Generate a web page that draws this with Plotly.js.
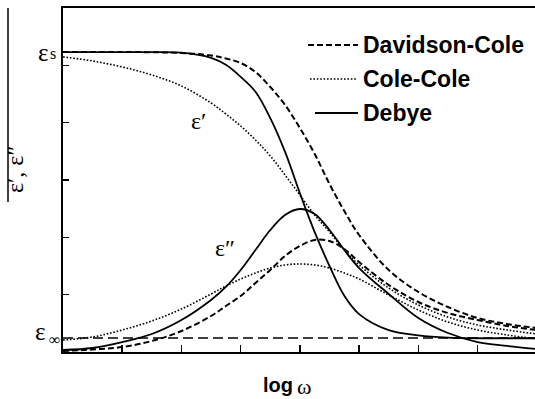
<!DOCTYPE html>
<html>
<head>
<meta charset="utf-8">
<script src="https://cdn.plot.ly/plotly-3.0.1.min.js"></script>
<style>
html,body{margin:0;padding:0;background:#fff;}
#chart{width:535px;height:399px;}
</style>
</head>
<body>
<div id="chart"></div>
<script>
// log omega sample positions (arbitrary units)
const logW = [0,0.5,1,1.5,2,2.5,2.75,3,3.25,3.5,3.75,4,4.25,4.5,4.75,5,5.5,6,6.5,7,7.5,8];

// Debye
const debyeReal = [5.23,5.23,5.23,5.23,5.22,5.13,5.01,4.80,4.54,4.08,3.49,2.77,2.09,1.50,0.98,0.66,0.38,0.29,0.25,0.24,0.24,0.24];
const debyeImag = [0.035,0.070,0.174,0.314,0.558,0.907,1.134,1.430,1.779,2.128,2.390,2.494,2.407,2.128,1.779,1.465,1.012,0.593,0.331,0.174,0.105,0.052];

// Davidson-Cole
const dcReal = [5.233,5.233,5.233,5.228,5.215,5.172,5.120,5.041,4.884,4.622,4.308,3.907,3.454,2.930,2.459,2.041,1.430,1.047,0.785,0.593,0.488,0.419];
const dcImag = [0.017,0.044,0.087,0.192,0.366,0.628,0.802,0.977,1.204,1.430,1.675,1.849,1.954,1.936,1.797,1.570,1.169,0.872,0.680,0.558,0.454,0.384];

// Cole-Cole
const ccReal = [5.146,5.076,4.971,4.832,4.640,4.343,4.151,3.942,3.698,3.419,3.087,2.738,2.390,2.093,1.779,1.518,1.116,0.820,0.610,0.471,0.384,0.314];
const ccImag = [0.209,0.262,0.384,0.541,0.750,1.012,1.151,1.273,1.378,1.465,1.518,1.535,1.518,1.465,1.378,1.273,0.994,0.733,0.523,0.384,0.297,0.227];

// Limits
const epsS = 5.23;
const epsInf = 0.244;
const infLineX = [0, 8];
const infLineY = [epsInf, epsInf];

const legendNames = ['Davidson-Cole', 'Cole-Cole', 'Debye'];

const solid = {color:'#000', width:1.8, shape:'spline', smoothing:1};
const dashed = {color:'#000', width:2, dash:'6px,3px', shape:'spline', smoothing:1};
const dotted = {color:'#000', width:1.6, dash:'1.6px,1.8px', shape:'spline', smoothing:1};

const traces = [
  {x:infLineX, y:infLineY, mode:'lines', line:{color:'#000', width:1.5, dash:'10px,5px'}, hoverinfo:'skip'},
  {x:logW, y:debyeReal, mode:'lines', line:solid, name:'Debye ε′'},
  {x:logW, y:debyeImag, mode:'lines', line:solid, name:'Debye ε″'},
  {x:logW, y:ccReal, mode:'lines', line:dotted, name:'Cole-Cole ε′'},
  {x:logW, y:ccImag, mode:'lines', line:dotted, name:'Cole-Cole ε″'},
  {x:logW, y:dcReal, mode:'lines', line:dashed, name:'Davidson-Cole ε′'},
  {x:logW, y:dcImag, mode:'lines', line:dashed, name:'Davidson-Cole ε″'}
];

// plot area: px 63..535 horizontally, 8..352 vertically
const L = 63, R = 535, T = 8, B = 352;
const px = v => (v - L) / (R - L);
const py = v => (B - v) / (B - T);

const serif = 'Liberation Serif, Times New Roman, serif';
const sans = 'Liberation Sans, Arial, sans-serif';

const legendRows = [
  {y:45, x0:308, x1:358, dash:'6px,3px', width:2},
  {y:79, x0:310, x1:357, dash:'1.6px,1.8px', width:1.6},
  {y:113, x0:315, x1:358, dash:'solid', width:2}
];

const shapes = legendRows.map(r => ({
  type:'line', xref:'paper', yref:'paper',
  x0:px(r.x0), x1:px(r.x1), y0:py(r.y), y1:py(r.y),
  line:{color:'#000', width:r.width, dash:r.dash}
}));
shapes.push({type:'line', xref:'paper', yref:'paper', x0:px(8), x1:px(8), y0:py(8), y1:py(202), line:{color:'#000', width:1.5}});

const annotations = legendRows.map((r, i) => ({
  xref:'paper', yref:'paper', x:px(361), y:py(r.y), xanchor:'left', yanchor:'middle',
  text:'<b>' + legendNames[i] + '</b>', showarrow:false,
  font:{family:sans, size:23, color:'#000'}
}));
annotations.push(
  // epsilon_s label
  {xref:'paper', yref:'y', x:px(50), y:epsS, xanchor:'right', yanchor:'middle', showarrow:false, borderpad:0,
   text:'ε', font:{family:serif, size:25, color:'#000'}},
  {xref:'paper', yref:'y', x:px(57), y:epsS - 0.02, xanchor:'right', yanchor:'middle', showarrow:false, borderpad:0,
   text:'s', font:{family:serif, size:16, color:'#000'}},
  // epsilon_inf label
  {xref:'paper', yref:'y', x:px(47), y:epsInf + 0.12, xanchor:'right', yanchor:'middle', showarrow:false, borderpad:0,
   text:'ε', font:{family:serif, size:25, color:'#000'}},
  {xref:'paper', yref:'y', x:px(47.5), y:epsInf - 0.03, xanchor:'left', yanchor:'middle', showarrow:false, borderpad:0,
   text:'∞', font:{family:serif, size:16, color:'#000'}},
  // y axis title
  {xref:'paper', yref:'paper', x:px(15), y:py(170), xanchor:'center', yanchor:'middle', showarrow:false,
   textangle:-90, text:'ε′, ε″', font:{family:serif, size:24, color:'#000'}},
  // x axis title
  {xref:'paper', yref:'paper', x:px(294), y:py(385), xanchor:'right', yanchor:'middle', showarrow:false, borderpad:0,
   text:'<b>log</b>', font:{family:sans, size:20, color:'#000'}},
  {xref:'paper', yref:'paper', x:px(296), y:py(386), xanchor:'left', yanchor:'middle', showarrow:false, borderpad:0,
   text:'ω', font:{family:serif, size:22, color:'#000'}},
  // curve labels
  {xref:'x', yref:'y', x:2.28, y:4.03, showarrow:false, text:'ε′', font:{family:serif, size:24, color:'#000'}},
  {xref:'x', yref:'y', x:2.74, y:1.81, showarrow:false, text:'ε″', font:{family:serif, size:24, color:'#000'}}
);

const layout = {
  width:535, height:399,
  margin:{l:L, r:535-R, t:T, b:399-B, pad:0},
  paper_bgcolor:'#fff', plot_bgcolor:'#fff',
  showlegend:false,
  xaxis:{range:[0, 7.97], showgrid:false, zeroline:false, showline:true, mirror:true, linecolor:'#000', linewidth:2,
         ticks:'inside', ticklen:7, tickwidth:1.5, tickcolor:'#000', tickvals:[1,2,3,4,5,6,7], showticklabels:false},
  yaxis:{range:[0, 6], showgrid:false, zeroline:false, showline:true, linecolor:'#000', linewidth:2,
         ticks:'inside', ticklen:6, tickwidth:1.5, tickcolor:'#000', tickvals:[1,2,3,4,5], showticklabels:false},
  shapes:shapes,
  annotations:annotations
};

Plotly.newPlot('chart', traces, layout, {staticPlot:true, displayModeBar:false});
</script>
</body>
</html>
